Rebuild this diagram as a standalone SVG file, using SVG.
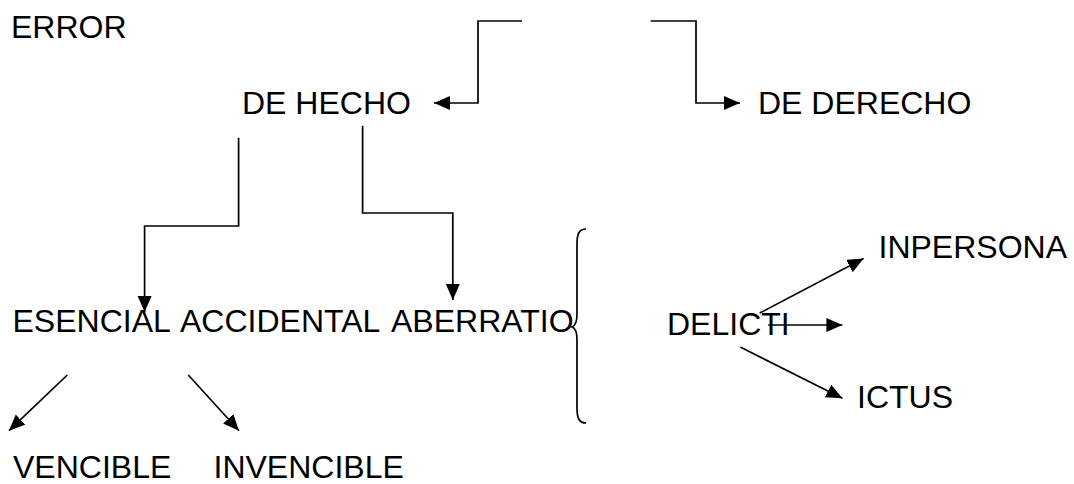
<svg xmlns="http://www.w3.org/2000/svg" width="1074" height="484" viewBox="0 0 1074 484">
  <style>
    .label { font-family: "Liberation Sans", Arial, sans-serif; font-size: 32px; fill: #000; }
    .wire { fill: none; stroke: #000; stroke-width: 1.7; marker-end: url(#head); }
    .brace { fill: none; stroke: #000; stroke-width: 1.7; }
  </style>
  <defs>
    <marker id="head" markerUnits="userSpaceOnUse" markerWidth="18" markerHeight="16" refX="16" refY="7" orient="auto">
      <path d="M0,0 L16,7 L0,14 Z" fill="#000"/>
    </marker>
  </defs>

  <rect width="1074" height="484" fill="#fff"/>

  <g id="error"><text class="label" x="11" y="38">ERROR</text></g>
  <g id="de-hecho"><text class="label" x="242" y="114">DE HECHO</text></g>
  <g id="de-derecho"><text class="label" x="758" y="114">DE DERECHO</text></g>
  <g id="esencial"><text class="label" x="12.5" y="332">ESENCIAL</text></g>
  <g id="accidental"><text class="label" x="180" y="332">ACCIDENTAL</text></g>
  <g id="aberratio"><text class="label" x="391" y="332">ABERRATIO</text></g>
  <g id="delicti"><text class="label" x="667" y="335">DELICTI</text></g>
  <g id="inpersona"><text class="label" x="878.5" y="258">INPERSONA</text></g>
  <g id="ictus"><text class="label" x="857" y="408">ICTUS</text></g>
  <g id="vencible"><text class="label" x="13" y="478">VENCIBLE</text></g>
  <g id="invencible"><text class="label" x="213.5" y="478">INVENCIBLE</text></g>

  <g id="brace-aberratio">
    <path class="brace" d="M586,229 C579,229 577,234 577,244 L577,314 C577,322 575,326 572,327 C575,328 577,332 577,340 L577,408 C577,418 579,423 586,423"/>
  </g>

  <g id="connectors">
    <path class="wire" d="M522,21 H478 V103 H434"/>
    <path class="wire" d="M650.7,21 H696 V103 H740"/>
    <path class="wire" d="M238.6,137.7 V226 H144.6 V312"/>
    <path class="wire" d="M362.6,125.7 V213 H452.8 V300"/>
    <path class="wire" d="M67.3,375 L9,430.7"/>
    <path class="wire" d="M188.3,375 L239,430.7"/>
    <path class="wire" d="M759.7,313.1 L863.6,258.6"/>
    <path class="wire" d="M768.2,325 H842.4"/>
    <path class="wire" d="M740.3,347.1 L842.4,398.2"/>
  </g>
</svg>
